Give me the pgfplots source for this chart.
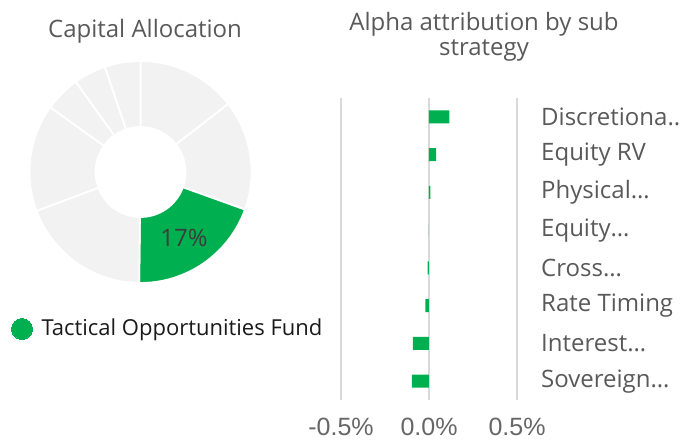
\documentclass[border=0pt]{standalone}
\usepackage{pgfplots}
\usepackage{pgfplotstable}
\pgfplotsset{compat=1.18}
\usepackage{fontspec}
\setmainfont{Open Sans}
\newfontfamily\tickfont{Liberation Sans}
\definecolor{fund}{RGB}{0,176,80}
\definecolor{seg}{RGB}{242,242,242}
\definecolor{titlegray}{RGB}{89,89,89}
\definecolor{labgray}{RGB}{89,89,89}
\definecolor{tickgray}{RGB}{102,102,102}
\definecolor{gridgray}{RGB}{217,217,217}
\definecolor{legtext}{RGB}{26,26,26}
\definecolor{pcttext}{RGB}{60,60,60}

% capital allocation shares (%), clockwise from 12 o'clock
\pgfplotstableread{
share
14.5
16.0
19.7
19.1
15.6
5.2
4.7
5.2
}\donutdata

% alpha attribution (%)
\pgfplotstableread{
val idx
0.116 0
0.041 1
0.008 2
0.000 3
-0.008 4
-0.021 5
-0.091 6
-0.097 7
}\alphadata

\begin{document}
\begin{tikzpicture}[font=\fontsize{24}{29}\selectfont]
\useasboundingbox (0,0) rectangle (681pt,441pt);

% ---------------- donut ----------------
\begin{axis}[
  at={(140.5pt,269pt)}, anchor=center,
  scale only axis, width=220pt, height=220pt,
  xmin=-1, xmax=1, ymin=-1, ymax=1,
  hide axis, clip=false,
]
\pgfplotsextra{
  \gdef\cum{0}
  \foreach \i in {0,...,7}{
    \pgfplotstablegetelem{\i}{share}\of\donutdata
    \let\v\pgfplotsretval
    \pgfmathsetmacro\aa{90-3.6*\cum}
    \pgfmathsetmacro\bb{90-3.6*(\cum+\v)}
    \ifnum\i=2 \def\col{fund}\else\def\col{seg}\fi
    \path[fill=\col, draw=white, line width=1.8pt]
      (axis cs:0,0) ++(\aa:45pt) -- ++(\aa:66pt)
      arc[start angle=\aa, end angle=\bb, radius=111pt]
      -- ++(\bb:-66pt)
      arc[start angle=\bb, end angle=\aa, radius=45pt] -- cycle;
    \pgfmathsetmacro\newcum{\cum+\v}
    \global\let\cum\newcum
  }
}
\addplot[only marks, color=fund, mark=*, mark size=10.5pt, mark options={fill=fund, draw=fund, line width=0pt}]
  coordinates {(-1.077,-1.427)};
\node[anchor=center, text=pcttext, font=\fontsize{24}{28}\selectfont] at (axis cs:0.395,-0.6) {17\%};
\node[anchor=base, text=titlegray] at (axis cs:0.041,1.227) {Capital Allocation};
\node[anchor=base west, text=legtext, font=\fontsize{22}{26}\selectfont] at (axis cs:-0.932,-1.482) {Tactical Opportunities Fund};
\end{axis}

% ---------------- bars ----------------
\begin{axis}[
  at={(341pt,41pt)}, anchor=south west,
  scale only axis, width=176pt, height=302pt,
  xmin=-0.5, xmax=0.5, ymin=-0.5, ymax=7.5, y dir=reverse,
  xbar, bar width=13pt,
  xtick={-0.5,0,0.5}, xticklabels={-0.5\%,0.0\%,0.5\%},
  ytick={0,...,7},
  yticklabels={Discretiona..,Equity RV,Physical…,Equity…,Cross…,Rate Timing,Interest…,Sovereign…},
  yticklabel pos=right,
  yticklabel style={anchor=west, inner sep=0pt, xshift=24pt, text=labgray},
  xticklabel style={font=\tickfont\fontsize{25}{29}\selectfont, text=tickgray, anchor=base, inner sep=0pt, yshift=-36pt},
  axis line style={draw=none}, major tick length=0pt,
  xmajorgrids, grid style={gridgray, line width=1.7pt},
  clip=false,
]
\addplot[fill=fund, draw=none] table[x=val, y=idx] {\alphadata};
\node[anchor=base, text=titlegray] at (axis description cs:0.8125,1.2219) {Alpha attribution by sub};
\node[anchor=base, text=titlegray] at (axis description cs:0.8125,1.1424) {strategy};
\end{axis}
\end{tikzpicture}
\end{document}
